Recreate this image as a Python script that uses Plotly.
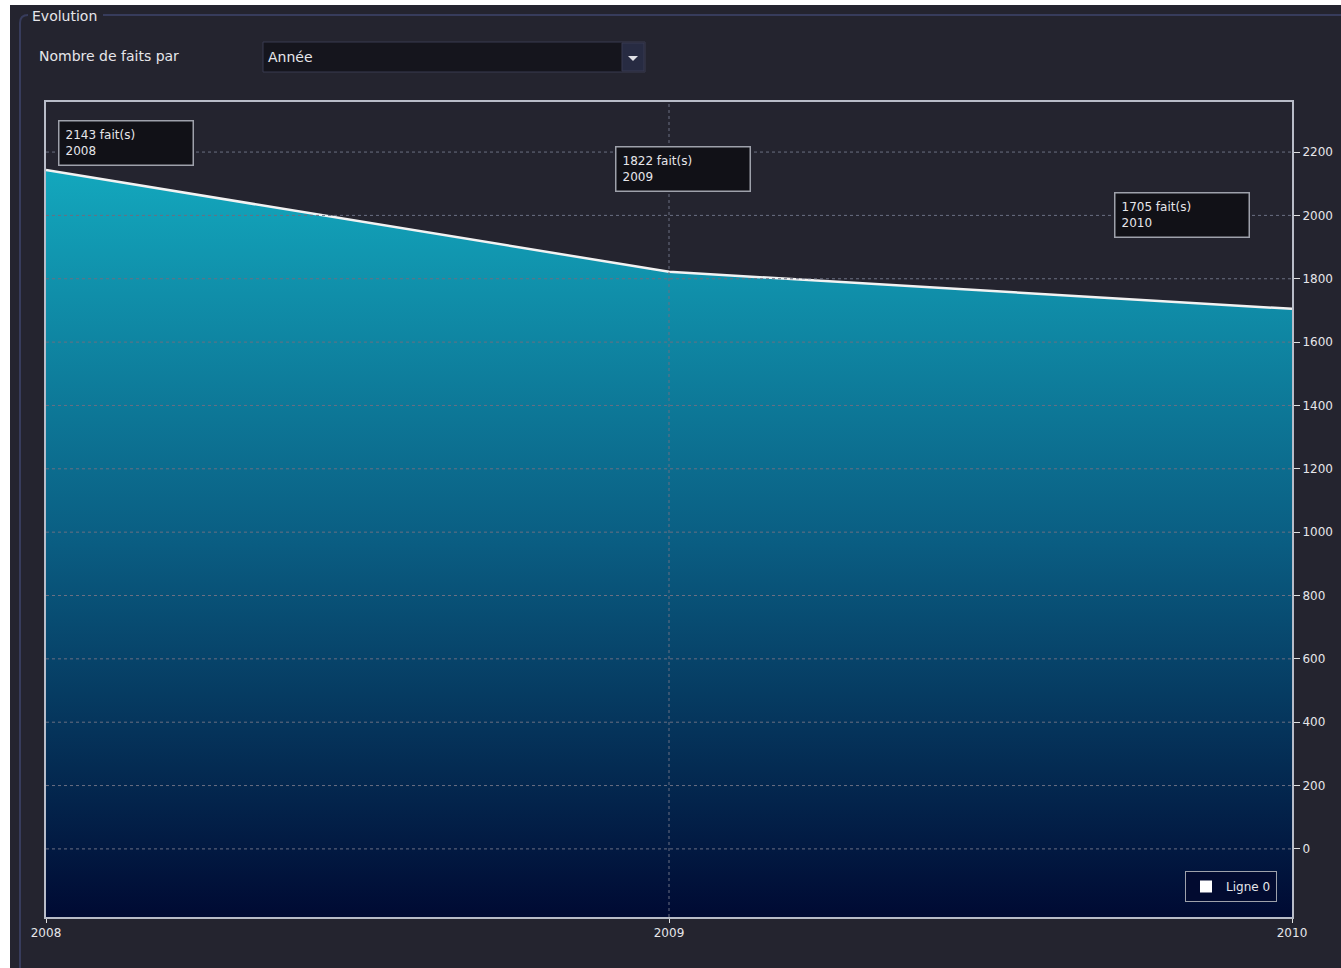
import plotly.graph_objects as go

# ---- data ----
years = [2008, 2009, 2010]
faits = [2143, 1822, 1705]
y_ticks = [0, 200, 400, 600, 800, 1000, 1200, 1400, 1600, 1800, 2000, 2200]
series_name = "Ligne 0"

# ---- page geometry (pixels) ----
W, H = 1341, 968
PL, PR, PT, PB = 46, 1292, 102, 917       # plot box edges
Y_RANGE = [-215, 2358]
X_RANGE = [2008, 2010]

BG = "#24242f"
FRAME = "#373c5c"
TXT = "#e6e6ea"
FONT = "DejaVu Sans"


def px(x):
    return (x - PL) / (PR - PL)


def py(y):
    return (PB - y) / (PB - PT)


fig = go.Figure()

# baseline at the bottom of the plot so the fill reaches the axis
fig.add_trace(go.Scatter(
    x=years, y=[Y_RANGE[0]] * len(years), mode="lines",
    line=dict(width=0), showlegend=False, hoverinfo="skip"))

# gradient area with white outline
fig.add_trace(go.Scatter(
    x=years, y=faits, mode="lines", fill="tonexty",
    line=dict(color="#f2f2f2", width=2.5),
    fillgradient=dict(type="vertical", start=Y_RANGE[0], stop=max(faits),
                      colorscale=[[0, "#000a33"], [0.5, "#0a5d82"], [1, "#13a7bd"]]),
    showlegend=False, name=series_name))

# legend entry
fig.add_trace(go.Scatter(
    x=[None], y=[None], mode="markers", name=series_name,
    marker=dict(symbol="square", color="white", size=16)))

shapes = []
# dotted grid drawn over the fill
for t in y_ticks:
    shapes.append(dict(type="line", xref="paper", yref="y", x0=0, x1=1, y0=t, y1=t,
                       line=dict(color="#6b6f82", width=1, dash="dot"), layer="above"))
for t in years[1:-1]:
    shapes.append(dict(type="line", xref="x", yref="paper", x0=t, x1=t, y0=0, y1=1,
                       line=dict(color="#6b6f82", width=1, dash="dot"), layer="above"))

# white page edge at top and left
shapes.append(dict(type="rect", xref="paper", yref="paper", x0=px(-5), x1=px(W + 5),
                   y0=py(5), y1=py(-5), fillcolor="white", line=dict(width=0), layer="above"))
shapes.append(dict(type="rect", xref="paper", yref="paper", x0=px(-5), x1=px(10),
                   y0=py(H + 5), y1=py(-5), fillcolor="white", line=dict(width=0), layer="above"))

# group box outline
shapes.append(dict(type="path", xref="paper", yref="paper",
                   path=f"M {px(28)},{py(15)} Q {px(20)},{py(15)} {px(20)},{py(23)} L {px(20)},{py(H + 5)}",
                   line=dict(color=FRAME, width=2), layer="above"))
shapes.append(dict(type="line", xref="paper", yref="paper", x0=px(103), x1=px(W + 5),
                   y0=py(15), y1=py(15), line=dict(color=FRAME, width=2), layer="above"))

# combo box
shapes.append(dict(type="rect", xref="paper", yref="paper", x0=px(263), x1=px(645),
                   y0=py(72), y1=py(42), fillcolor="#15151d",
                   line=dict(color="#393b50", width=1), layer="above"))
shapes.append(dict(type="rect", xref="paper", yref="paper", x0=px(622), x1=px(644),
                   y0=py(71), y1=py(43), fillcolor="#272b42",
                   line=dict(color="#393b50", width=1), layer="above"))
shapes.append(dict(type="path", xref="paper", yref="paper",
                   path=f"M {px(628)},{py(56)} L {px(638)},{py(56)} L {px(633)},{py(61)} Z",
                   fillcolor="#e0e0e6", line=dict(width=0), layer="above"))

annotations = [
    dict(xref="paper", yref="paper", x=px(30), y=py(16), text="Evolution",
         showarrow=False, xanchor="left", yanchor="middle",
         font=dict(family=FONT, size=14, color=TXT), bgcolor=BG),
    dict(xref="paper", yref="paper", x=px(37), y=py(56), text="Nombre de faits par",
         showarrow=False, xanchor="left", yanchor="middle",
         font=dict(family=FONT, size=14, color=TXT)),
    dict(xref="paper", yref="paper", x=px(266), y=py(57), text="Année",
         showarrow=False, xanchor="left", yanchor="middle",
         font=dict(family=FONT, size=14, color=TXT)),
]

# value callouts (pixel offsets of each box from its point)
label_offsets = [(12, 50), (-54, 126), (-178, 117)]
for yr, v, (dx, dy) in zip(years, faits, label_offsets):
    annotations.append(dict(
        x=yr, y=v, xref="x", yref="y", text=f"{v} fait(s)<br>{yr}",
        showarrow=False, xanchor="left", yanchor="top", xshift=dx, yshift=dy,
        align="left", valign="middle", width=121, height=31, borderpad=6,
        bgcolor="#111117", bordercolor="#9ea1ab", borderwidth=1.5,
        font=dict(family=FONT, size=12, color=TXT)))

fig.update_layout(
    width=W, height=H,
    margin=dict(l=PL, r=W - PR, t=PT, b=H - PB, autoexpand=False),
    paper_bgcolor=BG, plot_bgcolor=BG,
    font=dict(family=FONT, size=12, color=TXT),
    shapes=shapes, annotations=annotations,
    legend=dict(x=px(1277), y=py(902), xanchor="right", yanchor="bottom",
                bgcolor="#020b30", bordercolor="#9ea1ab", borderwidth=1,
                font=dict(family=FONT, size=12, color=TXT), itemsizing="constant",
                tracegroupgap=0),
    showlegend=True,
)
fig.update_xaxes(range=X_RANGE, tickvals=years, ticktext=[str(y) for y in years],
                 showgrid=False, zeroline=False, showline=True, mirror=True,
                 linecolor="#b8bcc8", linewidth=2, ticks="outside", ticklen=4,
                 tickcolor="#e0e0e0", tickfont=dict(color=TXT, size=12),
                 automargin=False)
fig.update_yaxes(range=Y_RANGE, tickvals=y_ticks, side="right",
                 showgrid=False, zeroline=False, showline=True, mirror=True,
                 linecolor="#b8bcc8", linewidth=2, ticks="outside", ticklen=6,
                 tickcolor="#e0e0e0", tickfont=dict(color=TXT, size=12),
                 automargin=False)

fig.write_html("out.html")
